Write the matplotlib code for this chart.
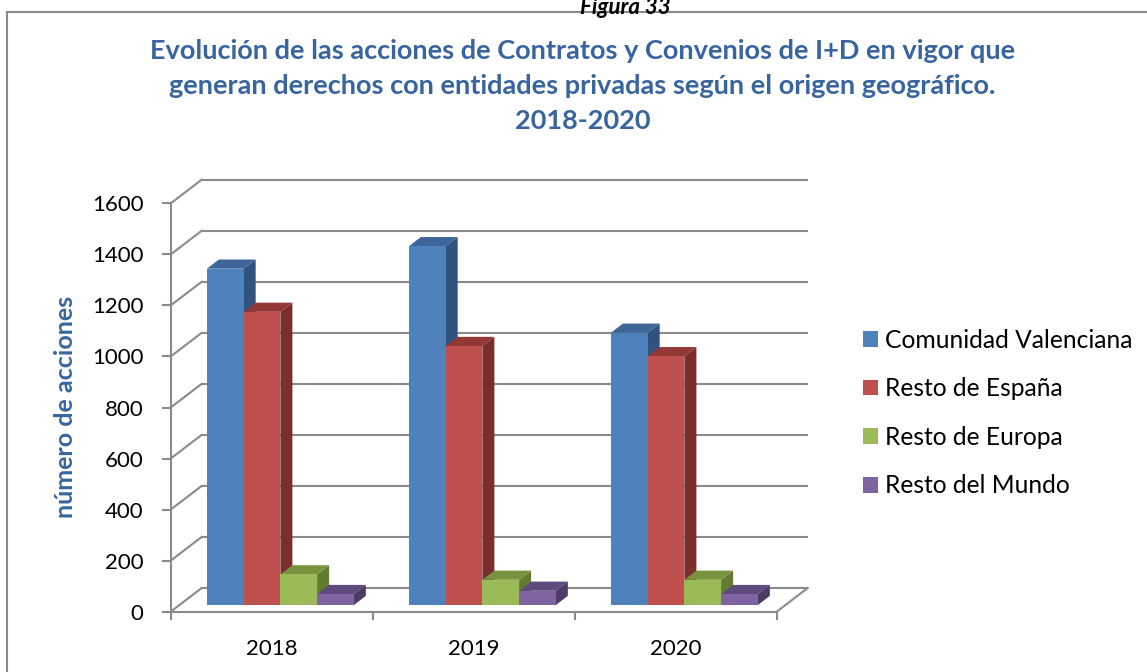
import numpy as np
import matplotlib
matplotlib.use("Agg")
import matplotlib.pyplot as plt
from matplotlib.patches import Polygon, Patch
from matplotlib.lines import Line2D

plt.rcParams['font.family'] = ['Lato', 'DejaVu Sans']

# datos
anios = ['2018', '2019', '2020']
series = ['Comunidad Valenciana', 'Resto de España', 'Resto de Europa', 'Resto del Mundo']
comunidad_valenciana = [1318, 1406, 1067]
resto_espana = [1149, 1015, 975]
resto_europa = [120, 99, 99]
resto_mundo = [43, 56, 43]
valores = [comunidad_valenciana, resto_espana, resto_europa, resto_mundo]

# colores: cara frontal, cara superior, cara lateral
frente = ['#4F81BD', '#C0504D', '#9BBB59', '#8064A2']
arriba = ['#3D6598', '#943835', '#78933D', '#5F4A7E']
lado = ['#30527E', '#7A2E2D', '#627B31', '#4D3D66']

azul_titulo = '#38659F'
gris = '#8A8A8A'

# perspectiva (profundidad en unidades de datos)
dx = 0.1535
dy = 92.9
f1, f2 = 0.28, 0.667
w = 1 / 5.5   # ancho de barra con separacion 150%

fig = plt.figure(figsize=(11.47, 6.72), dpi=100)
ax = fig.add_axes([0.14002, 0.06696, 0.58117, 0.6760])
ax.set_xlim(-0.05, 3.25)
ax.set_ylim(-60, 1720)

# pared del fondo y pared izquierda
for v in range(0, 1601, 200):
    ax.plot([dx, 3 + dx], [v + dy, v + dy], color=gris, lw=1.5, zorder=1, solid_capstyle='butt')
    ax.plot([0, dx], [v, v + dy], color=gris, lw=1.5, zorder=1)
ax.plot([3, 3 + dx], [0, dy], color=gris, lw=1.5, zorder=1)

# barras 3D
for k in range(len(anios)):
    for j in range(len(series)):
        val = valores[j][k]
        x0 = k + 0.5 - 2 * w + j * w + f1 * dx
        y0 = f1 * dy
        ddx = (f2 - f1) * dx
        ddy = (f2 - f1) * dy
        z = 3 + k * 10 + j * 2
        ax.add_patch(Polygon([(x0 + w, y0), (x0 + w + ddx, y0 + ddy),
                              (x0 + w + ddx, y0 + val + ddy), (x0 + w, y0 + val)],
                             closed=True, facecolor=lado[j], edgecolor='none', zorder=z))
        ax.add_patch(Polygon([(x0, y0 + val), (x0 + w, y0 + val),
                              (x0 + w + ddx, y0 + val + ddy), (x0 + ddx, y0 + val + ddy)],
                             closed=True, facecolor=arriba[j], edgecolor='none', zorder=z))
        ax.add_patch(Polygon([(x0, y0), (x0 + w, y0), (x0 + w, y0 + val), (x0, y0 + val)],
                             closed=True, facecolor=frente[j], edgecolor='none', zorder=z + 1))

# ejes frontales
for s in ['top', 'right']:
    ax.spines[s].set_visible(False)
ax.spines['left'].set_position(('data', 0))
ax.spines['bottom'].set_position(('data', 0))
ax.spines['left'].set_bounds(0, 1600)
ax.spines['bottom'].set_bounds(0, 3)
for s in ['left', 'bottom']:
    ax.spines[s].set_color(gris)
    ax.spines[s].set_linewidth(1.5)
    ax.spines[s].set_zorder(50)

ax.set_yticks(range(0, 1601, 200))
ax.tick_params(axis='y', length=6.5, width=1.5, color=gris, pad=13, labelsize=16)
ax.set_xticks([0, 1, 2, 3])
ax.set_xticks([0.5, 1.5, 2.5], minor=True)
ax.set_xticklabels([])
ax.set_xticklabels(anios, minor=True)
ax.tick_params(axis='x', which='major', length=6, width=1.5, color=gris)
ax.tick_params(axis='x', which='minor', length=0, pad=20, labelsize=16)

ax.set_ylabel('número de acciones', fontsize=18, fontweight='bold', color=azul_titulo, va='center')
ax.yaxis.set_label_coords(-0.1434, 0.4843)

# titulo
fig.text(0.508, 1 - 86 / 672,
         'Evolución de las acciones de Contratos y Convenios de I+D en vigor que\n'
         'generan derechos con entidades privadas según el origen geográfico.\n'
         '2018-2020',
         ha='center', va='center', fontsize=19.5, fontweight='bold', color=azul_titulo,
         linespacing=1.57)

fig.text(625 / 1147, 1 - 14 / 672, 'Figura 33', ha='center', va='baseline',
         fontsize=16, fontweight='bold', fontstyle='italic', color='black')

# leyenda
handles = [Patch(facecolor=c, edgecolor='none') for c in frente]
fig.legend(handles, series, loc='center left', bbox_to_anchor=(841 / 1147, 1 - 413 / 672),
           frameon=False, fontsize=17.7, handlelength=0.61, handleheight=0.61,
           handletextpad=0.3, labelspacing=1.04)

# marco del grafico
fig.add_artist(Line2D([7.3 / 1147, 7.3 / 1147], [-0.1, 1 - 11.7 / 672],
                      transform=fig.transFigure, color=gris, lw=1.5))
fig.add_artist(Line2D([7.3 / 1147, 1.1], [1 - 11.7 / 672, 1 - 11.7 / 672],
                      transform=fig.transFigure, color=gris, lw=1.5))

plt.savefig('out.png', dpi=100)
